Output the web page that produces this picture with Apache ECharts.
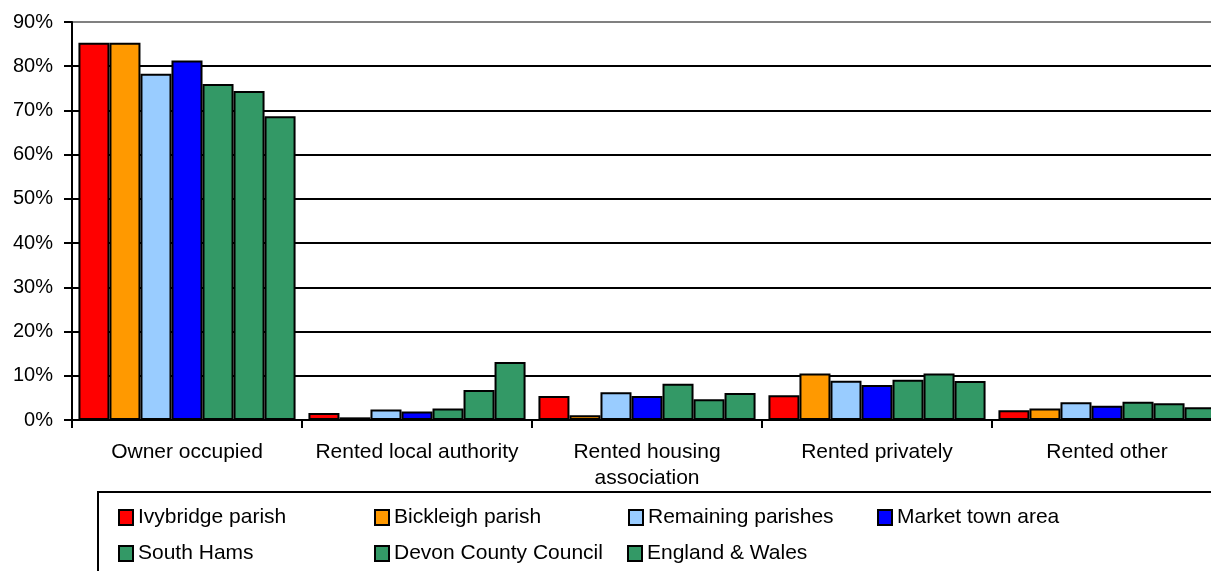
<!DOCTYPE html>
<html><head><meta charset="utf-8">
<script src="https://cdn.jsdelivr.net/npm/echarts@6/dist/echarts.min.js"></script>
<style>html,body{margin:0;padding:0;background:#fff}#c{width:1211px;height:571px}</style>
</head><body><div id="c"></div>
<script>
const categories = ['Owner occupied', 'Rented local authority', 'Rented housing\nassociation', 'Rented privately', 'Rented other'];
const seriesNames = ['Ivybridge parish', 'Bickleigh parish', 'Remaining parishes', 'Market town area', 'South Hams', 'Devon County Council', 'England & Wales'];
const ivybridge = [85.3, 1.6, 5.4, 5.6, 2.2];
const bickleigh = [85.3, 0.6, 1.1, 10.5, 2.6];
const remaining = [78.3, 2.4, 6.3, 8.9, 4.0];
const marketTown = [81.3, 1.9, 5.4, 7.9, 3.2];
const southHams = [76.0, 2.6, 8.2, 9.1, 4.1];
const devon = [74.4, 6.8, 4.7, 10.5, 3.8];
const englandWales = [68.7, 13.1, 6.1, 8.8, 2.9];
const yTicks = [0, 10, 20, 30, 40, 50, 60, 70, 80, 90];

const values = [ivybridge, bickleigh, remaining, marketTown, southHams, devon, englandWales];
const colors = ['#FF0000', '#FF9900', '#99CCFF', '#0000FF', '#339966', '#339966', '#339966'];
const font = 'Liberation Sans, Arial, sans-serif';

const legendPos = [[118, 507], [374, 507], [628, 507], [877, 507], [118, 543], [374, 543], [627, 543]];
const legends = seriesNames.map((n, i) => ({
  data: [n], left: legendPos[i][0], top: legendPos[i][1], padding: 0,
  itemWidth: 14, itemHeight: 15, itemGap: 0, icon: 'rect',
  itemStyle: { borderColor: '#000', borderWidth: 2 },
  textStyle: { fontFamily: font, fontSize: 21, color: '#000', padding: [0, 0, 0, 0] },
  selectedMode: false
}));

const chart = echarts.init(document.getElementById('c'));
chart.setOption({
  animation: false,
  grid: { left: 72, top: 22, width: 1150, height: 398, outerBoundsMode: 'none', containLabel: false },
  legend: legends,
  graphic: [{ type: 'rect', shape: { x: 98, y: 492, width: 1200, height: 120 }, style: { fill: 'none', stroke: '#000', lineWidth: 2 }, silent: true }],
  xAxis: {
    type: 'category', data: categories,
    axisLine: { lineStyle: { color: '#000', width: 2 } },
    axisTick: { show: true, interval: 0, length: 8, lineStyle: { color: '#000', width: 2 } },
    axisLabel: { interval: 0, fontFamily: font, fontSize: 21, color: '#000', margin: 19, lineHeight: 26 }
  },
  yAxis: {
    type: 'value', min: 0, max: 90, interval: 10,
    axisLine: { show: true, lineStyle: { color: '#000', width: 2 } },
    axisTick: { show: true, length: 8, lineStyle: { color: '#000', width: 2 } },
    axisLabel: { fontFamily: font, fontSize: 20, color: '#000', margin: 19, formatter: v => yTicks.includes(v) ? v + '%' : '' },
    splitLine: { lineStyle: { color: ['#000', '#000', '#000', '#000', '#000', '#000', '#000', '#000', '#000', '#808080'], width: 2 } }
  },
  series: seriesNames.map((n, i) => ({
    name: n, type: 'bar', data: values[i],
    barGap: '0%', barCategoryGap: '5.6%',
    itemStyle: { color: colors[i], borderColor: '#000', borderWidth: 2 }
  }))
});
</script></body></html>
